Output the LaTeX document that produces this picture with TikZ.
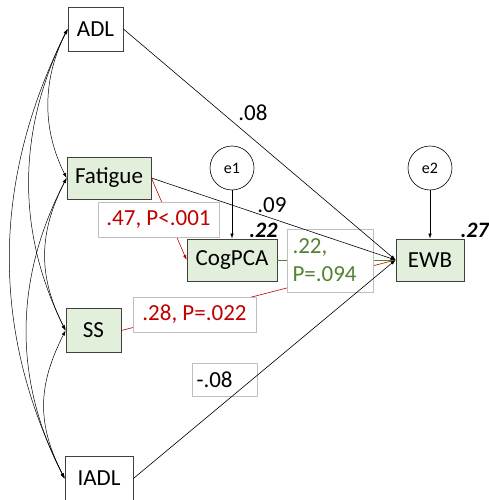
\documentclass[tikz,border=0pt]{standalone}
\usepackage{fontspec}
\setmainfont{Carlito}
\usetikzlibrary{arrows.meta}
\definecolor{boxgreen}{RGB}{226,239,218}
\definecolor{boxedge}{RGB}{64,64,64}
\definecolor{redtxt}{RGB}{192,0,0}
\definecolor{greentxt}{RGB}{84,130,53}
\definecolor{lbledge}{RGB}{191,191,191}
\begin{document}
\begin{tikzpicture}[x=1pt,y=-1pt,
  tip/.tip={Latex[length=5pt,width=3.5pt]},
  var/.style={draw=boxedge,line width=0.8pt,inner sep=0pt,font=\fontsize{23}{27}\selectfont},
  obsw/.style={var,fill=white},
  obsg/.style={var,fill=boxgreen},
  err/.style={draw=black,line width=0.6pt,circle,minimum size=44pt,inner sep=0pt,font=\fontsize{16}{18}\selectfont},
  lbl/.style={draw=lbledge,line width=0.6pt,fill=white,inner sep=0pt,font=\fontsize{23}{26}\selectfont},
  path/.style={line width=0.6pt,-tip},
  cov/.style={line width=0.5pt,tip-tip},
  r2/.style={font=\fontsize{22}{26}\selectfont\bfseries\itshape}]
\useasboundingbox (0,0) rectangle (488,500);
% variables
\node[obsw,minimum width=55pt,minimum height=44pt] (adl) at (95.5,29) {ADL};
\node[obsg,minimum width=84pt,minimum height=42pt] (fat) at (109,178) {Fatigue};
\node[obsg,minimum width=55pt,minimum height=44pt] (ss) at (93.5,330.5) {SS};
\node[obsw,minimum width=68pt,minimum height=44pt] (iadl) at (99,478.5) {IADL};
\node[obsg,minimum width=90pt,minimum height=42pt] (cog) at (232,260) {CogPCA};
\node[obsg,minimum width=68pt,minimum height=42pt] (ewb) at (430,260) {EWB};
\node[err] (e1) at (232,168) {e1};
\node[err] (e2) at (430,168) {e2};
% R squared
\node[r2,anchor=base east] (r1) at (281,237) {.22};
\node[r2,anchor=base west] (r2b) at (457,237) {.27};
% covariances
\draw[cov] (adl.west) .. controls +(-25,50) and +(-25,-50) .. (fat.west);
\draw[cov] (adl.west) .. controls +(-50,100) and +(-50,-100) .. (ss.west);
\draw[cov] (adl.west) .. controls +(-75,150) and +(-75,-150) .. (iadl.west);
\draw[cov] (fat.west) .. controls +(-28,55) and +(-28,-55) .. (ss.west);
\draw[cov] (fat.west) .. controls +(-52,100) and +(-52,-100) .. (iadl.west);
\draw[cov] (ss.west) .. controls +(-28,55) and +(-28,-55) .. (iadl.west);
% error paths
\draw[path] (e1) -- (cog);
\draw[path] (e2) -- (ewb);
% coloured paths
\draw[path,draw=redtxt,-{Latex[length=5pt,width=3.5pt,color=redtxt]}] (fat.east) -- (cog.west);
\draw[path,draw=redtxt] (ss.east) -- (ewb.west);
\draw[path,draw=greentxt] (cog.east) -- (ewb.west);
% labels with boxes
\node[lbl,text=redtxt,minimum width=121pt,minimum height=35pt] (l47) at (158.5,220) {.47, P<.001};
\node[lbl,text=greentxt,minimum width=86pt,minimum height=63pt,align=left,text width=76pt,font=\fontsize{23}{28}\selectfont] (l22) at (330.5,260.5) {.22,\\P=.094};
\node[lbl,text=redtxt,minimum width=123pt,minimum height=35pt] (l28) at (194.5,314.5) {.28, P=.022};
\node[lbl,minimum width=65pt,minimum height=33pt,text width=56pt,align=left] (l08n) at (224.5,379.5) {-.08};
% black paths on top
\draw[path] (adl.east) -- (ewb.west);
\draw[path] (fat.east) -- (ewb.west);
\draw[path] (iadl.east) -- (ewb.west);
% plain labels
\node[font=\fontsize{23}{27}\selectfont] (l08) at (253,113) {.08};
\node[font=\fontsize{23}{27}\selectfont] (l09) at (272,205) {.09};
\end{tikzpicture}
\end{document}
